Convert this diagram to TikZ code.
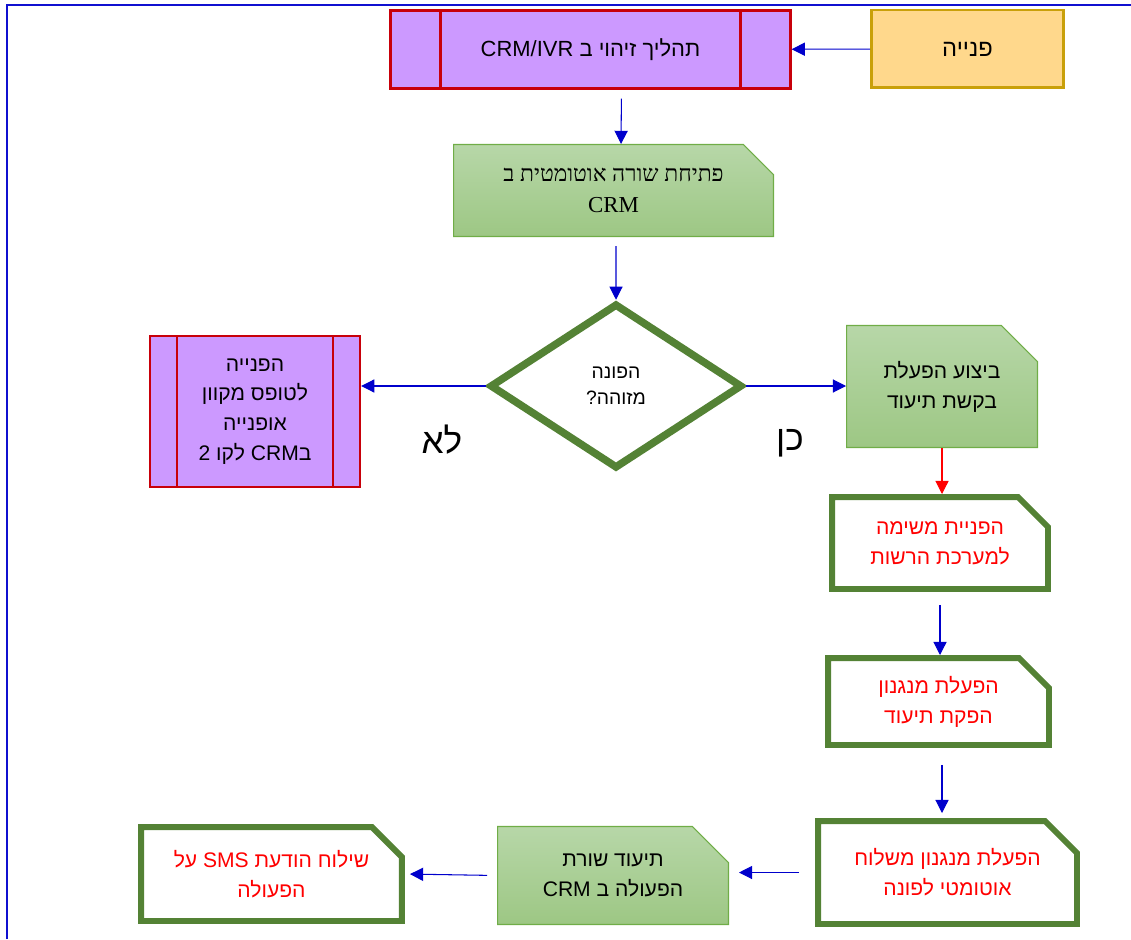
\documentclass[tikz,border=0pt]{standalone}
\usepackage{fontspec}
\setmainfont{Liberation Sans}
\newfontfamily\hebsans[Script=Hebrew]{Liberation Sans}
\newfontfamily\hebserif[Script=Hebrew]{Liberation Serif}
\TeXXeTstate=1
\usetikzlibrary{arrows.meta,shapes.geometric,shapes.misc}
\definecolor{frameblue}{HTML}{1010D0}
\definecolor{arrowblue}{HTML}{0000CC}
\definecolor{orfill}{HTML}{FFD88C}
\definecolor{orline}{HTML}{C9A00A}
\definecolor{prfill}{HTML}{CC99FF}
\definecolor{prline}{HTML}{C8000A}
\definecolor{gtop}{HTML}{B7D7A8}
\definecolor{gbot}{HTML}{9DC784}
\definecolor{gline}{HTML}{70AD47}
\definecolor{dgreen}{HTML}{548235}
\newcommand{\rl}[1]{\beginR #1\endR}
\newcommand{\lr}[1]{\beginL #1\endL}

\begin{document}
\begin{tikzpicture}
	[x=0.02cm,y=-0.02cm,
	every node/.style={font=\hebsans\fontsize{12}{17}\selectfont, align=center, inner sep=0pt},
	edge/.style={-{Triangle[length=7.5pt,width=7.5pt]}, draw=arrowblue, line width=0.6pt},
	redge/.style={edge, draw=red},
	startbox/.style={rectangle, draw=orline, fill=orfill, line width=1.7pt},
	predef/.style={rectangle, draw=prline, fill=prfill, line width=1.4pt,
		path picture={\draw[prline, line width=1.4pt]
			([xshift=#1]path picture bounding box.north west) -- ([xshift=#1]path picture bounding box.south west)
			([xshift=-#1]path picture bounding box.north east) -- ([xshift=-#1]path picture bounding box.south east);}},
	docbox/.style={chamfered rectangle, chamfered rectangle corners=north east,
		chamfered rectangle xsep=#1, chamfered rectangle ysep=#1,
		draw=gline, line width=0.6pt, top color=gtop, bottom color=gbot},
	taskbox/.style={chamfered rectangle, chamfered rectangle corners=north east,
		chamfered rectangle xsep=#1, chamfered rectangle ysep=#1,
		draw=dgreen, line width=3.4pt, fill=white, text=red},
	decision/.style={diamond, draw=dgreen, line width=4.3pt, fill=white,
		font=\hebsans\fontsize{11}{15}\selectfont},
	answer/.style={font=\hebsans\fontsize{20}{24}\selectfont}]
	\useasboundingbox (0,0) rectangle (1131,939);
	\draw[frameblue, line width=1.3pt] (7,939) -- (7,5) -- (1131,5);
	
	\node[startbox, minimum width=3.84cm, minimum height=1.56cm, font=\hebsans\fontsize{13.5}{17}\selectfont] (pniya) at (967.5,49) {\rl{פנייה}};
	\node[predef=1cm, minimum width=8cm, minimum height=1.56cm, font=\hebsans\fontsize{12.5}{17}\selectfont] (zihui) at (590.5,49.5) {\rl{תהליך זיהוי ב \lr{CRM/IVR}}};
	\node[docbox=0.3cm, minimum width=6.4cm, minimum height=1.84cm, font=\hebserif\fontsize{13}{18}\selectfont] (ptiha) at (613.5,190.5) {\rl{פתיחת שורה אוטומטית ב}\\\lr{CRM}};
	\node[decision, minimum width=5.05cm, minimum height=3.3cm] (dec) at (616,386) {\rl{הפונה}\\\rl{מזוהה?}};
	\node[predef=0.54cm, minimum width=4.2cm, minimum height=3.02cm] (ofnia) at (255,411.5) {\rl{הפנייה}\\\rl{לטופס מקוון}\\\rl{אופנייה}\\\rl{ב\lr{CRM} לקו 2}};
	\node[docbox=0.36cm, minimum width=3.82cm, minimum height=2.44cm] (bitzua) at (942,386.5) {\rl{ביצוע הפעלת}\\\rl{בקשת תיעוד}};
	\node[taskbox=0.3cm, minimum width=4.32cm, minimum height=1.84cm] (hafnaya) at (940,543) {\rl{הפניית משימה}\\\rl{למערכת הרשות}};
	\node[taskbox=0.3cm, minimum width=4.42cm, minimum height=1.74cm] (hafala) at (938.5,701.5) {\rl{הפעלת מנגנון}\\\rl{הפקת תיעוד}};
	\node[taskbox=0.32cm, minimum width=5.18cm, minimum height=2.06cm] (mishloah) at (947.5,872.5) {\rl{הפעלת מנגנון משלוח}\\\rl{אוטומטי לפונה}};
	\node[docbox=0.36cm, minimum width=4.62cm, minimum height=1.96cm] (tiud) at (613,875.5) {\rl{תיעוד שורת}\\\rl{הפעולה ב \lr{CRM}}};
	\node[taskbox=0.3cm, minimum width=5.22cm, minimum height=1.88cm] (sms) at (271.5,874) {\rl{שילוח הודעת \lr{SMS} על}\\\rl{הפעולה}};
	\node[answer] (lo) at (442,440) {\rl{לא}};
	\node[answer] (ken) at (790,443) {\rl{כן}};
	
	\draw[edge] (pniya) -- (zihui);
	\draw[edge, shorten <=0.18cm] ([xshift=0.62cm]zihui.south) -- ([xshift=0.15cm]ptiha.north);
	\draw[edge, shorten <=0.18cm] ([xshift=0.05cm]ptiha.south) -- (dec.north);
	\draw[edge] (dec.west) -- (dec.west -| ofnia.east);
	\draw[edge] (dec.east) -- (dec.east -| bitzua.west);
	\draw[redge] (bitzua.south) -- (bitzua.south |- hafnaya.north);
	\draw[edge, shorten <=0.26cm] (hafnaya.south) -- (hafnaya.south |- hafala.north);
	\draw[edge, shorten <=0.34cm, shorten >=0.1cm] ([xshift=0.07cm]hafala.south) -- ([xshift=0.07cm]hafala.south |- mishloah.north);
	\draw[edge, shorten <=0.32cm, shorten >=0.2cm] (mishloah.west) -- (mishloah.west -| tiud.east);
	\draw[edge, shorten <=0.2cm, shorten >=0.1cm] (tiud.west) -- (sms.east);
\end{tikzpicture}
\end{document}
